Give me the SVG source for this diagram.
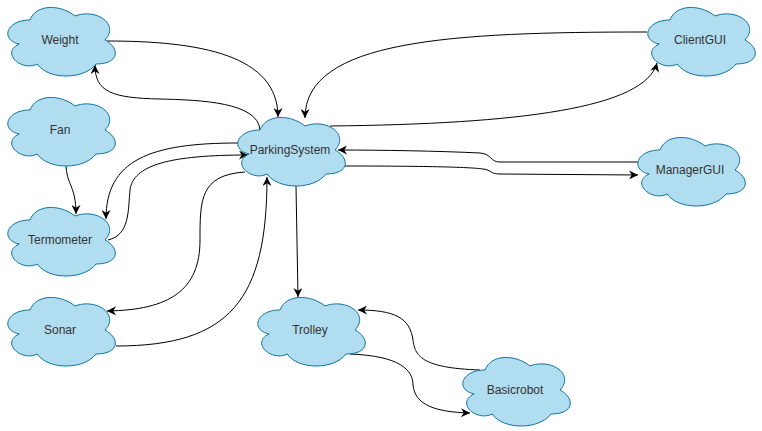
<svg xmlns="http://www.w3.org/2000/svg" xmlns:xlink="http://www.w3.org/1999/xlink" width="762" height="431" viewBox="0 0 762 431">
<style>
.cloud{fill:#b1ddf0;stroke:#10739e;stroke-width:1}
.lbl{font-family:"Liberation Sans",Arial,sans-serif;font-size:12px;fill:#333333;text-anchor:middle;dominant-baseline:central}
.edge{fill:none;stroke:#000;stroke-width:1;marker-end:url(#arr)}
</style>
<defs>
<path id="cloud" d="M30,20 C6,20 0,40 19.2,44 C0,52.8 21.6,72 37.2,64 C48,80 84,80 96,64 C120,64 120,48 105,40 C120,24 96,8 75,16 C60,4 36,4 30,20 Z"/>
<marker id="arr" viewBox="0 0 10 10" refX="10" refY="5" markerWidth="9" markerHeight="9" markerUnits="userSpaceOnUse" orient="auto">
<path d="M0,0 L10,5 L0,10 L3,5 Z" fill="#000"/>
</marker>
</defs>
<rect width="762" height="431" fill="#fff"/>
<g id="edges">
<path class="edge" d="M107,41 C200,41 278,55 278,117"/>
<path class="edge" d="M260,130 C258,102 200,100 160,99 C112,98 95,92 95,65"/>
<path class="edge" d="M647,32 C450,32 305,40 305,118"/>
<path class="edge" d="M330,126 C520,124 645,108 657,63"/>
<path class="edge" d="M638,162 L500,162 C490,162 492,154 480,153 C440,151 380,150 338,150"/>
<path class="edge" d="M345,166 C420,166 470,167 483,169 C492,170 490,174 500,174 L638,175"/>
<path class="edge" d="M238,143 C150,143 106,160 106,219"/>
<path class="edge" d="M108,240 C130,235 128,210 130,190 C133,165 170,155 248,155"/>
<path class="edge" d="M245,172 C200,175 200,200 200,240 C200,290 170,310 107,311"/>
<path class="edge" d="M116,346 C230,346 267,300 267,177"/>
<path class="edge" d="M66,163 C66,185 76,185 76,214"/>
<path class="edge" d="M296,186 L298,297"/>
<path class="edge" d="M480,370 C420,368 415,355 413,340 C410,318 395,310 358,310"/>
<path class="edge" d="M350,354 C400,356 413,370 413,385 C415,405 435,412 470,413"/>
</g>
<g id="weight"><use xlink:href="#cloud" href="#cloud" class="cloud" x="0" y="0"/><text class="lbl" x="60" y="40">Weight</text></g>
<g id="fan"><use xlink:href="#cloud" href="#cloud" class="cloud" x="0" y="90"/><text class="lbl" x="60" y="130">Fan</text></g>
<g id="termometer"><use xlink:href="#cloud" href="#cloud" class="cloud" x="0" y="200"/><text class="lbl" x="60" y="240">Termometer</text></g>
<g id="sonar"><use xlink:href="#cloud" href="#cloud" class="cloud" x="0" y="290"/><text class="lbl" x="60" y="330">Sonar</text></g>
<g id="parkingsystem"><use xlink:href="#cloud" href="#cloud" class="cloud" x="230" y="110"/><text class="lbl" x="290" y="150">ParkingSystem</text></g>
<g id="trolley"><use xlink:href="#cloud" href="#cloud" class="cloud" x="250" y="290"/><text class="lbl" x="310" y="330">Trolley</text></g>
<g id="basicrobot"><use xlink:href="#cloud" href="#cloud" class="cloud" x="455" y="350"/><text class="lbl" x="515" y="390">Basicrobot</text></g>
<g id="clientgui"><use xlink:href="#cloud" href="#cloud" class="cloud" x="640" y="0"/><text class="lbl" x="700" y="40">ClientGUI</text></g>
<g id="managergui"><use xlink:href="#cloud" href="#cloud" class="cloud" x="630" y="130"/><text class="lbl" x="690" y="170">ManagerGUI</text></g>
</svg>
